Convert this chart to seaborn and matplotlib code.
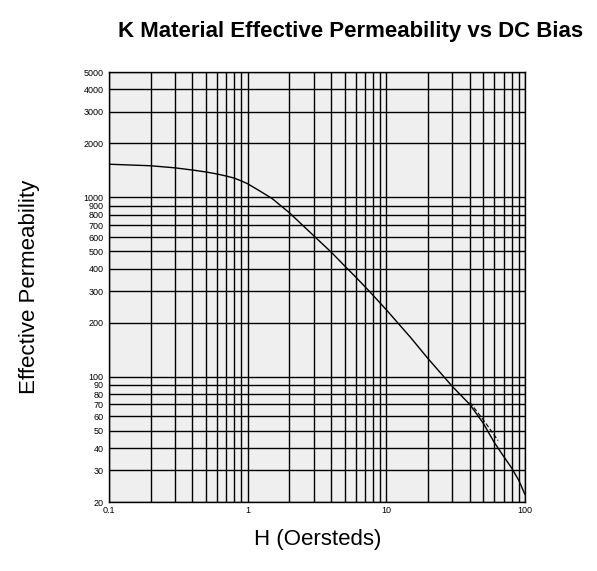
import numpy as np
import pandas as pd
import seaborn as sns
import matplotlib.pyplot as plt
from matplotlib.ticker import FixedLocator, NullFormatter, NullLocator

# values
h_oe = [0.1, 0.2, 0.3, 0.4, 0.5, 0.6, 0.7, 0.8, 0.9, 1.0, 1.2, 1.5, 2, 3, 4, 5, 6, 7, 8, 9,
        10, 15, 20, 30, 40, 50, 60, 70, 80, 90, 100]
mu_eff = [1530, 1500, 1460, 1420, 1385, 1350, 1315, 1280, 1235, 1190, 1095, 985, 820, 610,
          495, 415, 360, 318, 285, 258, 236, 165, 126, 88, 70, 55, 43, 36, 31, 26.5, 22]

# short dashed trace that peels off the main curve
h_dash = [40, 50, 64]
mu_dash = [72, 57.5, 44]

x_ticks = [0.1, 1, 10, 100]
x_tick_labels = ["0.1", "1", "10", "100"]
y_ticks = [20, 30, 40, 50, 60, 70, 80, 90, 100, 200, 300, 400, 500, 600, 700, 800, 900,
           1000, 2000, 3000, 4000, 5000]

df = pd.DataFrame({"H": h_oe, "mu": mu_eff})
df_dash = pd.DataFrame({"H": h_dash, "mu": mu_dash})

sns.set_style("white")
plt.rcParams["font.family"] = ["Liberation Sans", "DejaVu Sans"]
plt.rcParams["text.color"] = "black"

fig = plt.figure(figsize=(5.97, 5.71), dpi=100)
ax = fig.add_axes([109 / 597, 1 - 502 / 571, 416 / 597, 430 / 571])
ax.set_facecolor("#efefef")

sns.lineplot(data=df, x="H", y="mu", ax=ax, color="black", linewidth=1.0, zorder=3)
sns.lineplot(data=df_dash, x="H", y="mu", ax=ax, color="black", linewidth=0.8,
             linestyle=(0, (4, 2)), zorder=3)

ax.set_xscale("log")
ax.set_yscale("log")
ax.set_xlim(0.1, 100)
ax.set_ylim(20, 5000)

# x grid on every 1..9 multiple, labels only on decades
x_minor = [m * 10.0 ** d for d in (-1, 0, 1) for m in range(2, 10)]
ax.xaxis.set_major_locator(FixedLocator(x_ticks))
ax.set_xticklabels(x_tick_labels)
ax.xaxis.set_minor_locator(FixedLocator(x_minor))
ax.xaxis.set_minor_formatter(NullFormatter())

ax.yaxis.set_major_locator(FixedLocator(y_ticks))
ax.set_yticklabels([str(v) for v in y_ticks])
ax.yaxis.set_minor_locator(NullLocator())

ax.grid(which="both", color="black", linewidth=1.0)
ax.tick_params(which="both", length=0, labelsize=6.5, colors="black")
ax.tick_params(axis="y", pad=4)
ax.tick_params(axis="x", pad=3)

for side in ["left", "bottom", "right", "top"]:
    ax.spines[side].set_color("black")
    ax.spines[side].set_linewidth(1.0)

ax.set_xlabel("")
ax.set_ylabel("")

fig.text(351 / 597, 1 - 32 / 571, "K Material Effective Permeability vs DC Bias",
         ha="center", va="center", fontsize=16, fontweight="bold", color="black")
fig.text(30 / 597, 1 - 287 / 571, "Effective Permeability", rotation=90,
         ha="center", va="center", fontsize=16, color="black")
fig.text(318 / 597, 1 - 540 / 571, "H (Oersteds)", ha="center", va="center",
         fontsize=16, color="black")

fig.savefig("out.png", dpi=100)
